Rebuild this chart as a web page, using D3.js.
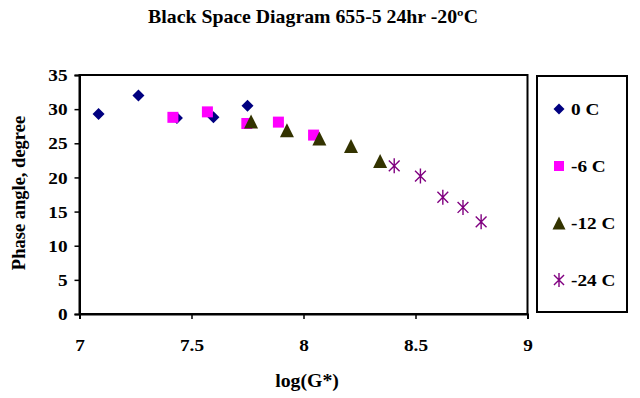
<!DOCTYPE html>
<html>
<head>
<meta charset="utf-8">
<script src="https://cdn.jsdelivr.net/npm/d3@7"></script>
<style>
  html, body { margin: 0; padding: 0; background: #fff; }
  svg { display: block; font-family: "Liberation Serif", "Times New Roman", serif; font-weight: bold; }
</style>
</head>
<body>
<svg id="chart" width="640" height="398"></svg>
<script>
// Series: log(G*) and phase angle (degrees) per test temperature
const seriesNames = ["0 C", "-6 C", "-12 C", "-24 C"];
const x0C = [7.085, 7.263, 7.435, 7.598, 7.75];
const y0C = [29.3, 32.0, 28.7, 28.8, 30.5];
const xm6C = [7.417, 7.571, 7.747, 7.888, 8.045];
const ym6C = [28.8, 29.6, 27.9, 28.1, 26.2];
const xm12C = [7.766, 7.926, 8.071, 8.212, 8.342];
const ym12C = [28.2, 26.9, 25.7, 24.6, 22.4];
const xm24C = [8.405, 8.522, 8.622, 8.712, 8.793];
const ym24C = [21.7, 20.2, 17.1, 15.6, 13.5];
const xTicks = [7, 7.5, 8, 8.5, 9];
const yTicks = [0, 5, 10, 15, 20, 25, 30, 35];

const colors = ["#000080", "#FF00FF", "#333300", "#800080"];
const shapes = ["diamond", "square", "triangle", "star"];
const series = [
  { x: x0C, y: y0C }, { x: xm6C, y: ym6C }, { x: xm12C, y: ym12C }, { x: xm24C, y: ym24C }
].map((s, i) => ({ name: seriesNames[i], color: colors[i], shape: shapes[i],
  points: s.x.map((v, j) => ({ x: v, y: s.y[j] })) }));

const svg = d3.select("#chart");
const plot = { left: 79.5, right: 527.5, top: 75, bottom: 314 };
const stretch = 1.1; // horizontal widening of the bold serif labels

const x = d3.scaleLinear().domain([7, 9]).range([plot.left, plot.right]);
const y = d3.scaleLinear().domain([0, 35]).range([plot.bottom, plot.top]);

// Horizontally widened text placed at (px, py)
function wideText(px, py, str, size, anchor) {
  return svg.append("g").attr("transform", `translate(${px},${py}) scale(${stretch},1)`)
    .append("text").attr("text-anchor", anchor || "start")
    .style("font-size", size + "px").text(str);
}

// Title
wideText(313, 23, "Black Space Diagram 655-5 24hr -20ºC", 18, "middle");

// Plot frame
svg.append("rect").attr("x", plot.left).attr("y", plot.top)
  .attr("width", plot.right - plot.left).attr("height", plot.bottom - plot.top)
  .attr("fill", "#fff").attr("stroke", "#000").attr("stroke-width", 2);

// Axes
const xAxis = svg.append("g").attr("transform", `translate(0,${plot.bottom})`)
  .call(d3.axisBottom(x).tickValues(xTicks).tickSize(5).tickPadding(20).tickFormat(d3.format("")));
const yAxis = svg.append("g").attr("transform", `translate(${plot.left},0)`)
  .call(d3.axisLeft(y).tickValues(yTicks).tickSize(5).tickPadding(7));
[xAxis, yAxis].forEach(g => {
  g.select(".domain").attr("stroke", "#000").attr("stroke-width", 2);
  g.selectAll(".tick line").attr("stroke", "#000").attr("stroke-width", 1.5);
  g.selectAll(".tick text").attr("fill", "#000")
    .style("font-size", "17.5px").style("font-family", "'Liberation Serif', serif").style("font-weight", "bold");
});
xAxis.selectAll(".tick text").attr("transform", `scale(${stretch},1)`);
yAxis.selectAll(".tick text").attr("x", -12 / stretch).attr("transform", `scale(${stretch},1)`);

// Axis titles
wideText(307, 387, "log(G*)", 18, "middle");
svg.append("text").attr("transform", "translate(25,193) rotate(-90)").attr("text-anchor", "middle")
  .style("font-size", "18.5px").text("Phase angle, degree");

// Marker drawing
function drawMarker(g, shape, color, size) {
  const s = size;
  if (shape === "diamond") {
    g.append("path").attr("d", `M0,${-s/2}L${s/2},0L0,${s/2}L${-s/2},0Z`).attr("fill", color);
  } else if (shape === "square") {
    g.append("rect").attr("x", -s/2 + 0.5).attr("y", -s/2 + 0.5).attr("width", s - 1).attr("height", s - 1).attr("fill", color);
  } else if (shape === "triangle") {
    g.append("path").attr("d", `M0,${-s/2}L${s/2},${s/2}L${-s/2},${s/2}Z`).attr("fill", color);
  } else {
    const r = s / 2;
    const d = r * 0.72;
    g.append("path")
      .attr("d", `M${-d},${-d}L${d},${d}M${-d},${d}L${d},${-d}M0,${-r}L0,${r}`)
      .attr("stroke", color).attr("stroke-width", 1.4).attr("fill", "none");
  }
}

series.forEach(s => {
  s.points.forEach(p => {
    const g = svg.append("g").attr("transform", `translate(${x(p.x)},${y(p.y)})`);
    drawMarker(g, s.shape, s.color, s.shape === "triangle" ? 14 : (s.shape === "star" ? 15 : 12));
  });
});

// Legend
svg.append("rect").attr("x", 537).attr("y", 76).attr("width", 90).attr("height", 236)
  .attr("fill", "#fff").attr("stroke", "#000").attr("stroke-width", 2);
const legendY = [109, 166, 223, 280];
series.forEach((s, i) => {
  const g = svg.append("g").attr("transform", `translate(559,${legendY[i]})`);
  drawMarker(g, s.shape, s.color, s.shape === "triangle" ? 13 : (s.shape === "star" ? 14 : 11));
  wideText(571, legendY[i] + 6, s.name, 17.5, "start");
});
</script>
</body>
</html>
